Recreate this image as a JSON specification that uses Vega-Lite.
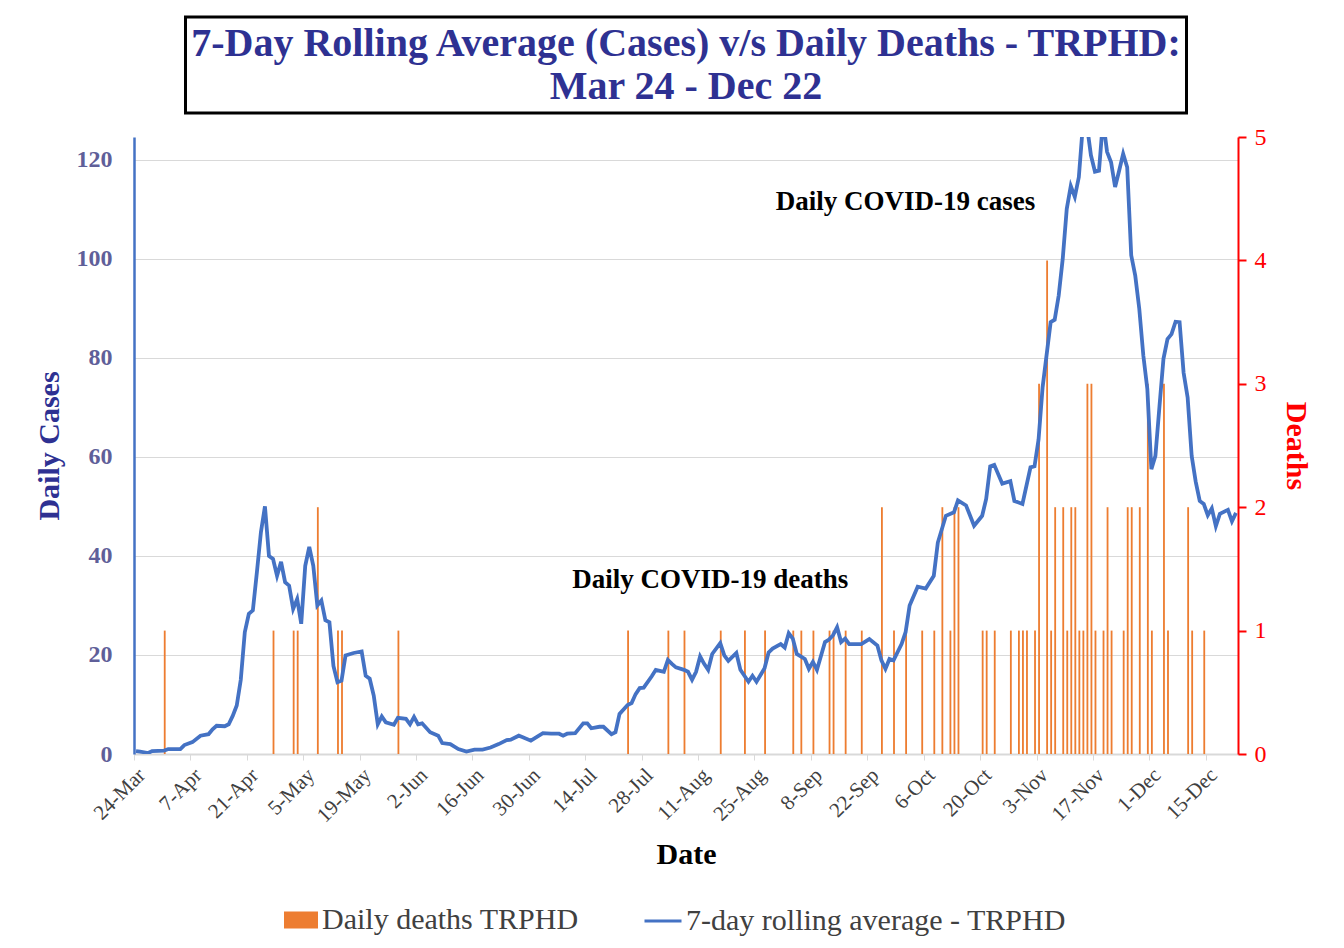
{
  "$schema": "https://vega.github.io/schema/vega-lite/v6.json",
  "padding": {"left": 34, "top": 15, "right": 5, "bottom": 5},
  "background": "white",
  "config": {
    "font": "Liberation Serif",
    "view": {"stroke": null}
  },
  "datasets": {
    "cases": [
      {"date": "2020-03-24", "cases": 0.6}, {"date": "2020-03-25", "cases": 0.5}, {"date": "2020-03-27", "cases": 0.2}, {"date": "2020-03-28", "cases": 0.6},
      {"date": "2020-03-31", "cases": 0.7}, {"date": "2020-04-01", "cases": 1.0}, {"date": "2020-04-04", "cases": 1.0}, {"date": "2020-04-05", "cases": 1.8},
      {"date": "2020-04-07", "cases": 2.4}, {"date": "2020-04-09", "cases": 3.7}, {"date": "2020-04-11", "cases": 4.0}, {"date": "2020-04-12", "cases": 5.0},
      {"date": "2020-04-13", "cases": 5.7}, {"date": "2020-04-15", "cases": 5.6}, {"date": "2020-04-16", "cases": 6.0}, {"date": "2020-04-17", "cases": 7.7},
      {"date": "2020-04-18", "cases": 9.8}, {"date": "2020-04-19", "cases": 15}, {"date": "2020-04-20", "cases": 24.6}, {"date": "2020-04-21", "cases": 28.3},
      {"date": "2020-04-22", "cases": 29}, {"date": "2020-04-23", "cases": 36.7}, {"date": "2020-04-24", "cases": 44.8}, {"date": "2020-04-25", "cases": 50},
      {"date": "2020-04-26", "cases": 40}, {"date": "2020-04-27", "cases": 39.4}, {"date": "2020-04-28", "cases": 36}, {"date": "2020-04-29", "cases": 38.8},
      {"date": "2020-04-30", "cases": 34.7}, {"date": "2020-05-01", "cases": 34}, {"date": "2020-05-02", "cases": 29.3}, {"date": "2020-05-03", "cases": 31.3},
      {"date": "2020-05-04", "cases": 26.3}, {"date": "2020-05-05", "cases": 38}, {"date": "2020-05-06", "cases": 41.8}, {"date": "2020-05-07", "cases": 38},
      {"date": "2020-05-08", "cases": 30}, {"date": "2020-05-09", "cases": 31}, {"date": "2020-05-10", "cases": 27}, {"date": "2020-05-11", "cases": 26.6},
      {"date": "2020-05-12", "cases": 17.8}, {"date": "2020-05-13", "cases": 14.5}, {"date": "2020-05-14", "cases": 14.8}, {"date": "2020-05-15", "cases": 19.9},
      {"date": "2020-05-17", "cases": 20.4}, {"date": "2020-05-19", "cases": 20.7}, {"date": "2020-05-20", "cases": 15.8}, {"date": "2020-05-21", "cases": 15.2},
      {"date": "2020-05-22", "cases": 11.8}, {"date": "2020-05-23", "cases": 6.0}, {"date": "2020-05-24", "cases": 7.6}, {"date": "2020-05-25", "cases": 6.4},
      {"date": "2020-05-27", "cases": 5.9}, {"date": "2020-05-28", "cases": 7.3}, {"date": "2020-05-30", "cases": 7.1}, {"date": "2020-05-31", "cases": 6.0},
      {"date": "2020-06-01", "cases": 7.5}, {"date": "2020-06-02", "cases": 6.0}, {"date": "2020-06-03", "cases": 6.2}, {"date": "2020-06-05", "cases": 4.4},
      {"date": "2020-06-07", "cases": 3.7}, {"date": "2020-06-08", "cases": 2.2}, {"date": "2020-06-10", "cases": 2.0}, {"date": "2020-06-12", "cases": 1.0},
      {"date": "2020-06-14", "cases": 0.5}, {"date": "2020-06-16", "cases": 0.9}, {"date": "2020-06-18", "cases": 0.9}, {"date": "2020-06-20", "cases": 1.3},
      {"date": "2020-06-22", "cases": 2.0}, {"date": "2020-06-24", "cases": 2.8}, {"date": "2020-06-25", "cases": 2.9}, {"date": "2020-06-27", "cases": 3.7},
      {"date": "2020-06-28", "cases": 3.4}, {"date": "2020-06-30", "cases": 2.7}, {"date": "2020-07-02", "cases": 3.7}, {"date": "2020-07-03", "cases": 4.2},
      {"date": "2020-07-05", "cases": 4.1}, {"date": "2020-07-07", "cases": 4.1}, {"date": "2020-07-08", "cases": 3.7}, {"date": "2020-07-09", "cases": 4.1},
      {"date": "2020-07-11", "cases": 4.2}, {"date": "2020-07-13", "cases": 6.2}, {"date": "2020-07-14", "cases": 6.2}, {"date": "2020-07-15", "cases": 5.2},
      {"date": "2020-07-17", "cases": 5.5}, {"date": "2020-07-18", "cases": 5.5}, {"date": "2020-07-20", "cases": 4.0}, {"date": "2020-07-21", "cases": 4.4},
      {"date": "2020-07-22", "cases": 8.1}, {"date": "2020-07-24", "cases": 9.9}, {"date": "2020-07-25", "cases": 10.3}, {"date": "2020-07-26", "cases": 12.1},
      {"date": "2020-07-27", "cases": 13.3}, {"date": "2020-07-28", "cases": 13.4}, {"date": "2020-07-30", "cases": 15.7}, {"date": "2020-07-31", "cases": 17.0},
      {"date": "2020-08-01", "cases": 16.8}, {"date": "2020-08-02", "cases": 16.6}, {"date": "2020-08-03", "cases": 19.0}, {"date": "2020-08-04", "cases": 18.2},
      {"date": "2020-08-05", "cases": 17.5}, {"date": "2020-08-07", "cases": 17.0}, {"date": "2020-08-08", "cases": 16.6}, {"date": "2020-08-09", "cases": 15.0},
      {"date": "2020-08-10", "cases": 16.6}, {"date": "2020-08-11", "cases": 19.7}, {"date": "2020-08-12", "cases": 18.2}, {"date": "2020-08-13", "cases": 17.0},
      {"date": "2020-08-14", "cases": 20.2}, {"date": "2020-08-16", "cases": 22.4}, {"date": "2020-08-17", "cases": 19.9}, {"date": "2020-08-18", "cases": 18.8},
      {"date": "2020-08-20", "cases": 20.4}, {"date": "2020-08-21", "cases": 17.0}, {"date": "2020-08-23", "cases": 14.6}, {"date": "2020-08-24", "cases": 15.8},
      {"date": "2020-08-25", "cases": 14.6}, {"date": "2020-08-27", "cases": 17.3}, {"date": "2020-08-28", "cases": 20.5}, {"date": "2020-08-29", "cases": 21.3},
      {"date": "2020-08-31", "cases": 22.2}, {"date": "2020-09-01", "cases": 21.5}, {"date": "2020-09-02", "cases": 24.4}, {"date": "2020-09-03", "cases": 23.3},
      {"date": "2020-09-04", "cases": 20.2}, {"date": "2020-09-06", "cases": 19.2}, {"date": "2020-09-07", "cases": 17.2}, {"date": "2020-09-08", "cases": 18.6},
      {"date": "2020-09-09", "cases": 17.0}, {"date": "2020-09-11", "cases": 22.6}, {"date": "2020-09-12", "cases": 23.1}, {"date": "2020-09-13", "cases": 24.0},
      {"date": "2020-09-14", "cases": 25.6}, {"date": "2020-09-15", "cases": 22.6}, {"date": "2020-09-16", "cases": 23.3}, {"date": "2020-09-17", "cases": 22.2},
      {"date": "2020-09-20", "cases": 22.2}, {"date": "2020-09-22", "cases": 23.2}, {"date": "2020-09-24", "cases": 21.9}, {"date": "2020-09-25", "cases": 18.9},
      {"date": "2020-09-26", "cases": 17.2}, {"date": "2020-09-27", "cases": 19.2}, {"date": "2020-09-28", "cases": 18.9}, {"date": "2020-09-30", "cases": 22.2},
      {"date": "2020-10-01", "cases": 24.6}, {"date": "2020-10-02", "cases": 30.0}, {"date": "2020-10-04", "cases": 33.8}, {"date": "2020-10-06", "cases": 33.4},
      {"date": "2020-10-08", "cases": 36.0}, {"date": "2020-10-09", "cases": 42.7}, {"date": "2020-10-11", "cases": 48.1}, {"date": "2020-10-13", "cases": 48.8},
      {"date": "2020-10-14", "cases": 51.2}, {"date": "2020-10-16", "cases": 50.2}, {"date": "2020-10-18", "cases": 46.1}, {"date": "2020-10-20", "cases": 48.1},
      {"date": "2020-10-21", "cases": 51.5}, {"date": "2020-10-22", "cases": 58.1}, {"date": "2020-10-23", "cases": 58.4}, {"date": "2020-10-25", "cases": 54.6},
      {"date": "2020-10-27", "cases": 55.1}, {"date": "2020-10-28", "cases": 51.1}, {"date": "2020-10-30", "cases": 50.5}, {"date": "2020-11-01", "cases": 57.9},
      {"date": "2020-11-02", "cases": 58.1}, {"date": "2020-11-03", "cases": 63.5}, {"date": "2020-11-04", "cases": 74.0}, {"date": "2020-11-06", "cases": 87.2},
      {"date": "2020-11-07", "cases": 87.7}, {"date": "2020-11-08", "cases": 92.6}, {"date": "2020-11-09", "cases": 100}, {"date": "2020-11-10", "cases": 110.1},
      {"date": "2020-11-11", "cases": 114.7}, {"date": "2020-11-12", "cases": 112.5}, {"date": "2020-11-13", "cases": 116.5}, {"date": "2020-11-14", "cases": 127},
      {"date": "2020-11-15", "cases": 127}, {"date": "2020-11-16", "cases": 120.9}, {"date": "2020-11-17", "cases": 117.6}, {"date": "2020-11-18", "cases": 117.8},
      {"date": "2020-11-19", "cases": 128}, {"date": "2020-11-20", "cases": 121.6}, {"date": "2020-11-21", "cases": 119.5}, {"date": "2020-11-22", "cases": 114.5},
      {"date": "2020-11-23", "cases": 117.8}, {"date": "2020-11-24", "cases": 121.2}, {"date": "2020-11-25", "cases": 118.5}, {"date": "2020-11-26", "cases": 100.7},
      {"date": "2020-11-27", "cases": 96.6}, {"date": "2020-11-28", "cases": 89.9}, {"date": "2020-11-29", "cases": 80.5}, {"date": "2020-11-30", "cases": 73.7},
      {"date": "2020-12-01", "cases": 57.5}, {"date": "2020-12-02", "cases": 60.2}, {"date": "2020-12-03", "cases": 70.1}, {"date": "2020-12-04", "cases": 79.8},
      {"date": "2020-12-05", "cases": 83.8}, {"date": "2020-12-06", "cases": 84.8}, {"date": "2020-12-07", "cases": 87.3}, {"date": "2020-12-08", "cases": 87.2},
      {"date": "2020-12-09", "cases": 77}, {"date": "2020-12-10", "cases": 72}, {"date": "2020-12-11", "cases": 60.2}, {"date": "2020-12-12", "cases": 55},
      {"date": "2020-12-13", "cases": 51.1}, {"date": "2020-12-14", "cases": 50.5}, {"date": "2020-12-15", "cases": 48.2}, {"date": "2020-12-16", "cases": 49.6},
      {"date": "2020-12-17", "cases": 46.0}, {"date": "2020-12-18", "cases": 48.5}, {"date": "2020-12-20", "cases": 49.3}, {"date": "2020-12-21", "cases": 47.0},
      {"date": "2020-12-22", "cases": 48.7}
    ],
    "deaths": [
      {"date": "2020-03-31", "deaths": 1}, {"date": "2020-04-27", "deaths": 1}, {"date": "2020-05-02", "deaths": 1}, {"date": "2020-05-03", "deaths": 1},
      {"date": "2020-05-08", "deaths": 2}, {"date": "2020-05-13", "deaths": 1}, {"date": "2020-05-14", "deaths": 1}, {"date": "2020-05-28", "deaths": 1},
      {"date": "2020-07-24", "deaths": 1}, {"date": "2020-08-03", "deaths": 1}, {"date": "2020-08-07", "deaths": 1}, {"date": "2020-08-16", "deaths": 1},
      {"date": "2020-08-22", "deaths": 1}, {"date": "2020-08-27", "deaths": 1}, {"date": "2020-09-03", "deaths": 1}, {"date": "2020-09-05", "deaths": 1},
      {"date": "2020-09-08", "deaths": 1}, {"date": "2020-09-12", "deaths": 1}, {"date": "2020-09-13", "deaths": 1}, {"date": "2020-09-16", "deaths": 1},
      {"date": "2020-09-20", "deaths": 1}, {"date": "2020-09-25", "deaths": 2}, {"date": "2020-09-28", "deaths": 1}, {"date": "2020-10-01", "deaths": 1},
      {"date": "2020-10-05", "deaths": 1}, {"date": "2020-10-08", "deaths": 1}, {"date": "2020-10-10", "deaths": 2}, {"date": "2020-10-12", "deaths": 1},
      {"date": "2020-10-13", "deaths": 2}, {"date": "2020-10-14", "deaths": 2}, {"date": "2020-10-20", "deaths": 1}, {"date": "2020-10-21", "deaths": 1},
      {"date": "2020-10-23", "deaths": 1}, {"date": "2020-10-27", "deaths": 1}, {"date": "2020-10-29", "deaths": 1}, {"date": "2020-10-30", "deaths": 1},
      {"date": "2020-10-31", "deaths": 1}, {"date": "2020-11-02", "deaths": 1}, {"date": "2020-11-03", "deaths": 3}, {"date": "2020-11-05", "deaths": 4},
      {"date": "2020-11-06", "deaths": 1}, {"date": "2020-11-07", "deaths": 2}, {"date": "2020-11-09", "deaths": 2}, {"date": "2020-11-10", "deaths": 1},
      {"date": "2020-11-11", "deaths": 2}, {"date": "2020-11-12", "deaths": 2}, {"date": "2020-11-13", "deaths": 1}, {"date": "2020-11-14", "deaths": 1},
      {"date": "2020-11-15", "deaths": 3}, {"date": "2020-11-16", "deaths": 3}, {"date": "2020-11-17", "deaths": 1}, {"date": "2020-11-19", "deaths": 1},
      {"date": "2020-11-20", "deaths": 2}, {"date": "2020-11-21", "deaths": 1}, {"date": "2020-11-24", "deaths": 1}, {"date": "2020-11-25", "deaths": 2},
      {"date": "2020-11-26", "deaths": 2}, {"date": "2020-11-28", "deaths": 2}, {"date": "2020-11-30", "deaths": 3}, {"date": "2020-12-01", "deaths": 1},
      {"date": "2020-12-04", "deaths": 3}, {"date": "2020-12-05", "deaths": 1}, {"date": "2020-12-10", "deaths": 2}, {"date": "2020-12-11", "deaths": 1},
      {"date": "2020-12-14", "deaths": 1}
    ]
  },
  "center": true,
  "bounds": "flush",
  "spacing": 24,
  "vconcat": [
    {
      "width": 1001,
      "height": 96,
      "view": {"stroke": "black", "strokeWidth": 3, "fill": "white"},
      "data": {"values": [{}]},
      "mark": {
        "type": "text",
        "text": ["7-Day Rolling Average (Cases) v/s Daily Deaths - TRPHD:", "Mar 24 - Dec 22"],
        "fontSize": 40,
        "fontWeight": "bold",
        "color": "#2E3192",
        "lineHeight": 43,
        "dy": -21.5,
        "align": "center",
        "baseline": "middle"
      },
      "encoding": {}
    },
    {
      "width": 1104,
      "height": 617,
      "layer": [
        {
          "data": {"name": "deaths"},
          "mark": {"type": "bar", "width": {"band": 0.7}},
          "encoding": {
            "x": {
              "field": "date", "type": "temporal", "timeUnit": "utcyearmonthdate",
              "scale": {"type": "utc", "domain": [{"year": 2020, "month": "mar", "date": 24, "utc": true}, {"year": 2020, "month": "dec", "date": 23, "utc": true}]},
              "axis": {
                "title": "Date",
                "values": [
                  {"year": 2020, "month": "mar", "date": 24, "utc": true}, {"year": 2020, "month": "apr", "date": 7, "utc": true},
                  {"year": 2020, "month": "apr", "date": 21, "utc": true}, {"year": 2020, "month": "may", "date": 5, "utc": true},
                  {"year": 2020, "month": "may", "date": 19, "utc": true}, {"year": 2020, "month": "jun", "date": 2, "utc": true},
                  {"year": 2020, "month": "jun", "date": 16, "utc": true}, {"year": 2020, "month": "jun", "date": 30, "utc": true},
                  {"year": 2020, "month": "jul", "date": 14, "utc": true}, {"year": 2020, "month": "jul", "date": 28, "utc": true},
                  {"year": 2020, "month": "aug", "date": 11, "utc": true}, {"year": 2020, "month": "aug", "date": 25, "utc": true},
                  {"year": 2020, "month": "sep", "date": 8, "utc": true}, {"year": 2020, "month": "sep", "date": 22, "utc": true},
                  {"year": 2020, "month": "oct", "date": 6, "utc": true}, {"year": 2020, "month": "oct", "date": 20, "utc": true},
                  {"year": 2020, "month": "nov", "date": 3, "utc": true}, {"year": 2020, "month": "nov", "date": 17, "utc": true},
                  {"year": 2020, "month": "dec", "date": 1, "utc": true}, {"year": 2020, "month": "dec", "date": 15, "utc": true}
                ],
                "format": "%-d-%b",
                "labelAngle": -45,
                "labelFontSize": 21,
                "labelColor": "#404040",
                "labelFlush": false,
                "labelOverlap": false,
                "labelBound": false,
                "labelPadding": 4,
                "domainColor": "#D9D9D9",
                "domainWidth": 2,
                "tickColor": "#D9D9D9",
                "tickSize": 6,
                "grid": false,
                "titleFontSize": 30,
                "titleFontWeight": "bold",
                "titleColor": "black",
                "titlePadding": 14
              }
            },
            "y": {
              "field": "deaths", "type": "quantitative",
              "scale": {"domain": [0, 5], "nice": false},
              "axis": {
                "orient": "right",
                "title": "Deaths",
                "values": [0, 1, 2, 3, 4, 5],
                "grid": false,
                "domainColor": "#FF0000",
                "domainWidth": 2,
                "tickColor": "#FF0000",
                "tickSize": 8,
                "tickWidth": 2,
                "labelColor": "#FF0000",
                "labelFontSize": 24,
                "labelPadding": 8,
                "titleColor": "#FF0000",
                "titleFontSize": 30,
                "titleFontWeight": "bold",
                "titlePadding": 14
              }
            },
            "color": {
              "datum": "Daily deaths TRPHD",
              "scale": {"range": ["#ED7D31"]},
              "legend": {
                "orient": "none", "legendX": 150, "legendY": 886, "title": null, "padding": 0,
                "symbolType": "M-1,-0.5H1V0.5H-1Z", "symbolSize": 1156, "symbolStrokeWidth": 0,
                "labelFontSize": 30, "labelColor": "#404040", "labelOffset": 4, "labelLimit": 0
              }
            }
          }
        },
        {
          "layer": [
            {
              "data": {"name": "cases"},
              "mark": {"type": "line", "strokeWidth": 3.8, "clip": true},
              "encoding": {
                "x": {
                  "field": "date", "type": "temporal", "timeUnit": "utcyearmonthdate", "bandPosition": 0.5,
                  "scale": {"type": "utc", "domain": [{"year": 2020, "month": "mar", "date": 24, "utc": true}, {"year": 2020, "month": "dec", "date": 23, "utc": true}]}
                },
                "y": {
                  "field": "cases", "type": "quantitative",
                  "scale": {"domain": [0, 124.6], "nice": false},
                  "axis": {
                    "orient": "left",
                    "title": "Daily Cases",
                    "values": [0, 20, 40, 60, 80, 100, 120],
                    "grid": true,
                    "gridColor": "#D9D9D9",
                    "gridWidth": 1,
                    "domainColor": "#4472C4",
                    "domainWidth": 2.5,
                    "ticks": false,
                    "labelColor": "#5F5F99",
                    "labelFontSize": 24,
                    "labelFontWeight": "bold",
                    "labelPadding": 22,
                    "titleColor": "#2E3192",
                    "titleFontSize": 30,
                    "titleFontWeight": "bold",
                    "titlePadding": 12
                  }
                },
                "stroke": {
                  "datum": "7-day rolling average - TRPHD",
                  "scale": {"range": ["#4472C4"]},
                  "legend": {
                    "orient": "none", "legendX": 509, "legendY": 884, "title": null, "padding": 0,
                    "symbolType": "stroke", "symbolSize": 1369, "symbolStrokeWidth": 3,
                    "labelFontSize": 30, "labelColor": "#404040", "labelOffset": 3, "labelLimit": 0
                  }
                }
              }
            },
            {
              "data": {"values": [{}]},
              "mark": {"type": "text", "text": "Daily COVID-19 cases", "fontSize": 27, "fontWeight": "bold", "color": "black", "align": "center", "baseline": "middle"},
              "encoding": {
                "x": {"datum": {"year": 2020, "month": "oct", "date": 1, "hours": 12, "utc": true}, "type": "temporal"},
                "y": {"datum": 111.5, "type": "quantitative"}
              }
            },
            {
              "data": {"values": [{}]},
              "mark": {"type": "text", "text": "Daily COVID-19 deaths", "fontSize": 27, "fontWeight": "bold", "color": "black", "align": "center", "baseline": "middle"},
              "encoding": {
                "x": {"datum": {"year": 2020, "month": "aug", "date": 14, "utc": true}, "type": "temporal"},
                "y": {"datum": 35.2, "type": "quantitative"}
              }
            }
          ]
        }
      ],
      "resolve": {"scale": {"y": "independent"}}
    }
  ]
}
